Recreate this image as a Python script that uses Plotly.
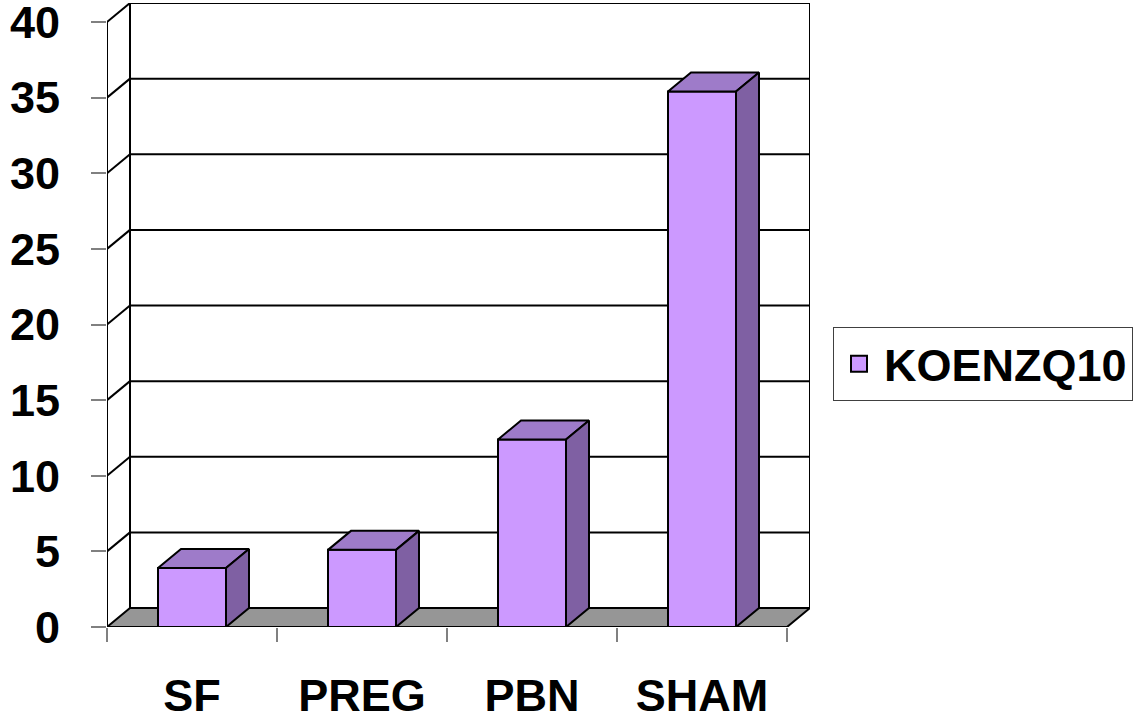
import plotly.graph_objects as go

categories = ["SF", "PREG", "PBN", "SHAM"]
values = [3.9, 5.1, 12.4, 35.4]
series_name = "KOENZQ10"
y_ticks = [0, 5, 10, 15, 20, 25, 30, 35, 40]

FRONT = "#CC99FF"
TOP = "#9E7BC9"
SIDE = "#7F60A3"
FLOOR = "#969696"
FONT = "Liberation Sans, Arial, sans-serif"

# depth offset of the 3-D look, in data units
DX = 23 / 170
DY = 19 / 15.125
HALF = 0.2
YMAX = 40 + DY
XMIN, XMAX = -0.5, len(categories) - 0.5

fig = go.Figure()

def poly(xs, ys, color, width=2):
    fig.add_trace(go.Scatter(x=xs + [xs[0]], y=ys + [ys[0]], fill="toself", fillcolor=color,
                             mode="lines", line=dict(color="black", width=width),
                             showlegend=False, hoverinfo="skip"))

def line(xs, ys, color="black", width=2):
    fig.add_trace(go.Scatter(x=xs, y=ys, mode="lines", line=dict(color=color, width=width),
                             showlegend=False, hoverinfo="skip"))

# back wall gridlines and left wall diagonals
for v in y_ticks:
    line([XMIN + DX, XMAX + DX], [v + DY, v + DY])
    if v > 0:
        line([XMIN, XMIN + DX], [v, v + DY])
line([XMIN + DX, XMIN + DX], [DY, YMAX])
line([XMAX + DX, XMAX + DX], [DY, YMAX])
# front value axis
line([XMIN, XMIN], [0, y_ticks[-1]])

# floor
poly([XMIN, XMAX, XMAX + DX, XMIN + DX], [0, 0, DY, DY], FLOOR)

# bars
for i, v in enumerate(values):
    l, r = i - HALF, i + HALF
    poly([l, r, r, l], [0, 0, v, v], FRONT)
    poly([l, r, r + DX, l + DX], [v, v, v + DY, v + DY], TOP)
    poly([r, r + DX, r + DX, r], [0, DY, v + DY, v], SIDE)

# legend entry
fig.add_trace(go.Scatter(x=[None], y=[None], mode="markers", name=series_name,
                         marker=dict(symbol="square", size=16, color=FRONT,
                                     line=dict(color="black", width=2))))

fig.update_layout(
    width=1146, height=725,
    margin=dict(l=107, r=336, t=3, b=98),
    plot_bgcolor="white", paper_bgcolor="white",
    font=dict(family=FONT, size=45, color="black", weight="bold"),
    showlegend=True,
    legend=dict(xref="container", yref="container", x=833 / 1146, y=1 - 327 / 725,
                xanchor="left", yanchor="top", bordercolor="#404040", borderwidth=1,
                bgcolor="white", itemwidth=40,
                font=dict(family=FONT, size=45, weight="bold")),
    xaxis=dict(range=[XMIN, XMAX + DX], tickmode="array", tickvals=list(range(len(categories))),
               ticktext=categories, ticks="", showgrid=False, zeroline=False, showline=False,
               automargin=False, ticklabelstandoff=38, ticklabeloverflow="allow",
               minor=dict(tickmode="array", tickvals=[k - 0.5 for k in range(len(categories) + 1)],
                          ticks="outside", ticklen=14, tickcolor="#808080", tickwidth=1.5,
                          showgrid=False)),
    yaxis=dict(range=[0, YMAX], tickmode="array", tickvals=y_ticks, ticks="outside",
               ticklen=15, tickcolor="#808080", tickwidth=1.5, showgrid=False,
               zeroline=False, showline=False, automargin=False, ticklabelstandoff=22,
               ticklabeloverflow="allow"),
)

fig.write_html("out.html")
